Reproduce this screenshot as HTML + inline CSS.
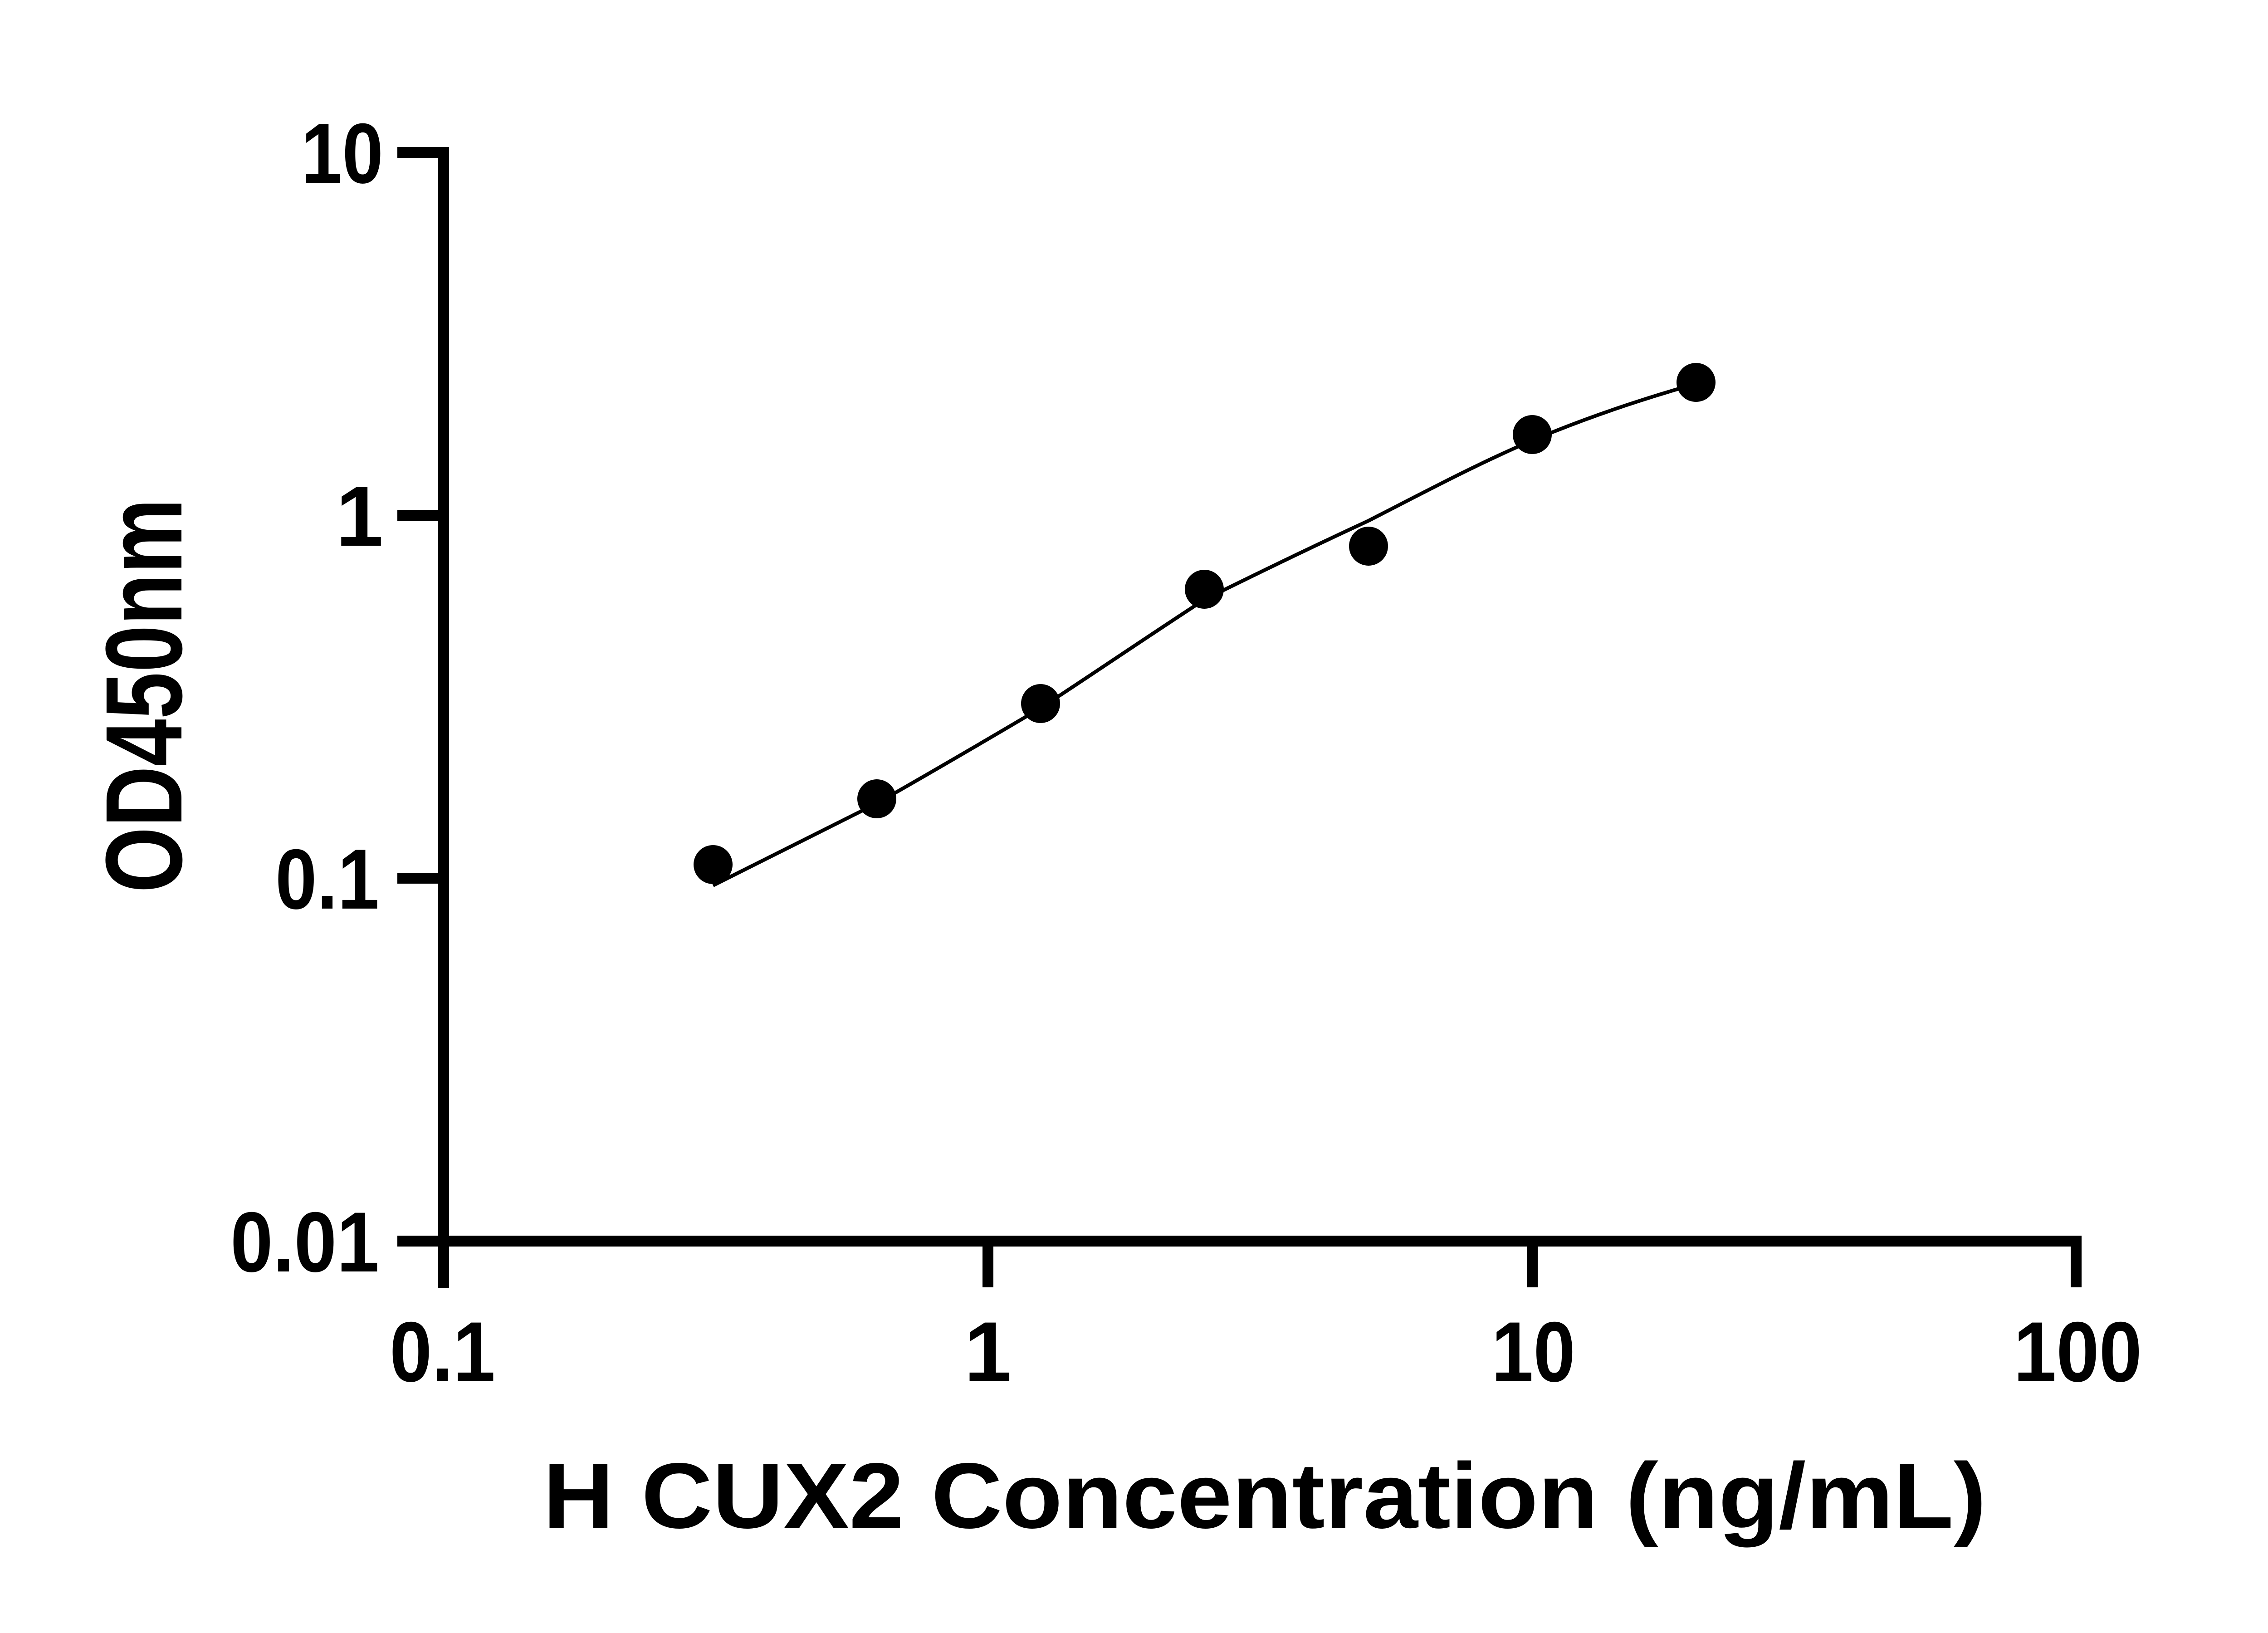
<!DOCTYPE html>
<html><head><meta charset="utf-8"><style>html,body{margin:0;padding:0;background:#fff}svg{display:block}</style></head>
<body>
<svg width="5130" height="3600" viewBox="0 0 5130 3600" xmlns="http://www.w3.org/2000/svg">
<rect width="5130" height="3600" fill="#fff"/>
<g stroke="#000" stroke-width="24" fill="none" stroke-linecap="butt">
<line x1="978" y1="324" x2="978" y2="2840"/>
<line x1="966" y1="2736" x2="4589" y2="2736"/>
<line x1="876" y1="336" x2="990" y2="336"/>
<line x1="876" y1="1136" x2="978" y2="1136"/>
<line x1="876" y1="1936" x2="978" y2="1936"/>
<line x1="876" y1="2736" x2="978" y2="2736"/>
<line x1="2178" y1="2736" x2="2178" y2="2838"/>
<line x1="3378" y1="2736" x2="3378" y2="2838"/>
<line x1="4577" y1="2724" x2="4577" y2="2838"/>
</g>
<path d="M1572,1952 C1692,1892 1812,1832 1933,1771 C2054,1702 2174,1632 2294,1561 C2415,1482 2535,1400 2655,1322 C2776,1262 2896,1204 3017,1148 C3138,1086 3258,1022 3378,971 C3499,920 3619,880 3739,846" stroke="#000" stroke-width="8" fill="none"/>
<g fill="#000">
<circle cx="1572" cy="1906" r="43"/>
<circle cx="1933" cy="1761" r="43"/>
<circle cx="2294" cy="1551" r="43"/>
<circle cx="2655" cy="1299" r="43"/>
<circle cx="3017" cy="1204" r="43"/>
<circle cx="3378" cy="958" r="43"/>
<circle cx="3739" cy="843" r="43"/>
</g>
<g font-family="Liberation Sans, Arial, sans-serif" font-weight="bold" font-size="188" fill="#000" lengthAdjust="spacingAndGlyphs">
<text x="664" y="403" textLength="181" lengthAdjust="spacingAndGlyphs">10</text>
<text x="845" y="1203" text-anchor="end">1</text>
<text x="607" y="2003" textLength="229" lengthAdjust="spacingAndGlyphs">0.1</text>
<text x="508" y="2803" textLength="328" lengthAdjust="spacingAndGlyphs">0.01</text>
<text x="859" y="3045" textLength="233" lengthAdjust="spacingAndGlyphs">0.1</text>
<text x="2178" y="3045" text-anchor="middle">1</text>
<text x="3288" y="3045" textLength="185" lengthAdjust="spacingAndGlyphs">10</text>
<text x="4439" y="3045" textLength="283" lengthAdjust="spacingAndGlyphs">100</text>
</g>
<text x="1197" y="3368" font-family="Liberation Sans, Arial, sans-serif" font-weight="bold" font-size="205" textLength="3182" lengthAdjust="spacingAndGlyphs">H CUX2 Concentration (ng/mL)</text>
<text transform="translate(400,1968) rotate(-90)" font-family="Liberation Sans, Arial, sans-serif" font-weight="bold" font-size="240" textLength="869" lengthAdjust="spacingAndGlyphs">OD450nm</text>
</svg>
</body></html>
